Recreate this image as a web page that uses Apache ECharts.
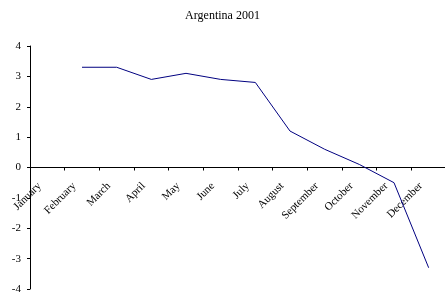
<!DOCTYPE html>
<html>
	<head>
		<meta charset="utf-8">
		<title>Argentina 2001</title>
		<script src="https://cdn.jsdelivr.net/npm/echarts@6/dist/echarts.min.js"></script>
	</head>
	<body style="margin:0">
		<div id="box" style="width: 445px;height: 299px;"></div>
		<script>
			var months = ['January', 'February', 'March', 'April', 'May', 'June', 'July',
				'August', 'September', 'October', 'November', 'December']
			// no value for January
			var values = [null, 3.3, 3.3, 2.9, 3.1, 2.9, 2.8, 1.2, 0.6, 0.1, -0.5, -3.3]
			var yTicks = [-4, -3, -2, -1, 0, 1, 2, 3, 4]

			var font = '"Liberation Serif", "Times New Roman", serif'
			var gridTop = 46, gridBottom = 10
			var gridH = 299 - gridTop - gridBottom
			var mCharts = echarts.init(document.querySelector('#box'))
			var option = {
				animation: false,
				title: {
					text: 'Argentina 2001',
					left: 'center',
					top: 5,
					textStyle: { fontFamily: font, fontSize: 12, fontWeight: 'normal', color: '#000' }
				},
				grid: { left: 30, right: -1, top: gridTop, bottom: gridBottom, containLabel: false, outerBoundsMode: 'none' },
				xAxis: {
					type: 'category',
					data: months,
					boundaryGap: true,
					// put the axis (with its labels) on the zero line
					offset: -gridH / 2,
					axisLine: { onZero: false, lineStyle: { color: '#000', width: 1 } },
					axisTick: { show: true, length: 3, lineStyle: { color: '#000' } },
					axisLabel: {
						rotate: 45, margin: 9, padding: [0, 11, 0, 0],
						fontFamily: font, fontSize: 11, color: '#000', interval: 0
					},
					splitLine: { show: false }
				},
				yAxis: {
					type: 'value',
					min: yTicks[0],
					max: yTicks[yTicks.length - 1],
					interval: 1,
					axisLine: { show: true, lineStyle: { color: '#000', width: 1 } },
					axisTick: { show: true, length: 3, lineStyle: { color: '#000' } },
					axisLabel: { margin: 9, fontFamily: font, fontSize: 11, color: '#000' },
					splitLine: { show: false }
				},
				series: [
					{
						type: 'line',
						data: values,
						symbol: 'none',
						connectNulls: false,
						lineStyle: { color: '#000080', width: 1 }
					}
				]
			}
			mCharts.setOption(option)
		</script>
	</body>
</html>
